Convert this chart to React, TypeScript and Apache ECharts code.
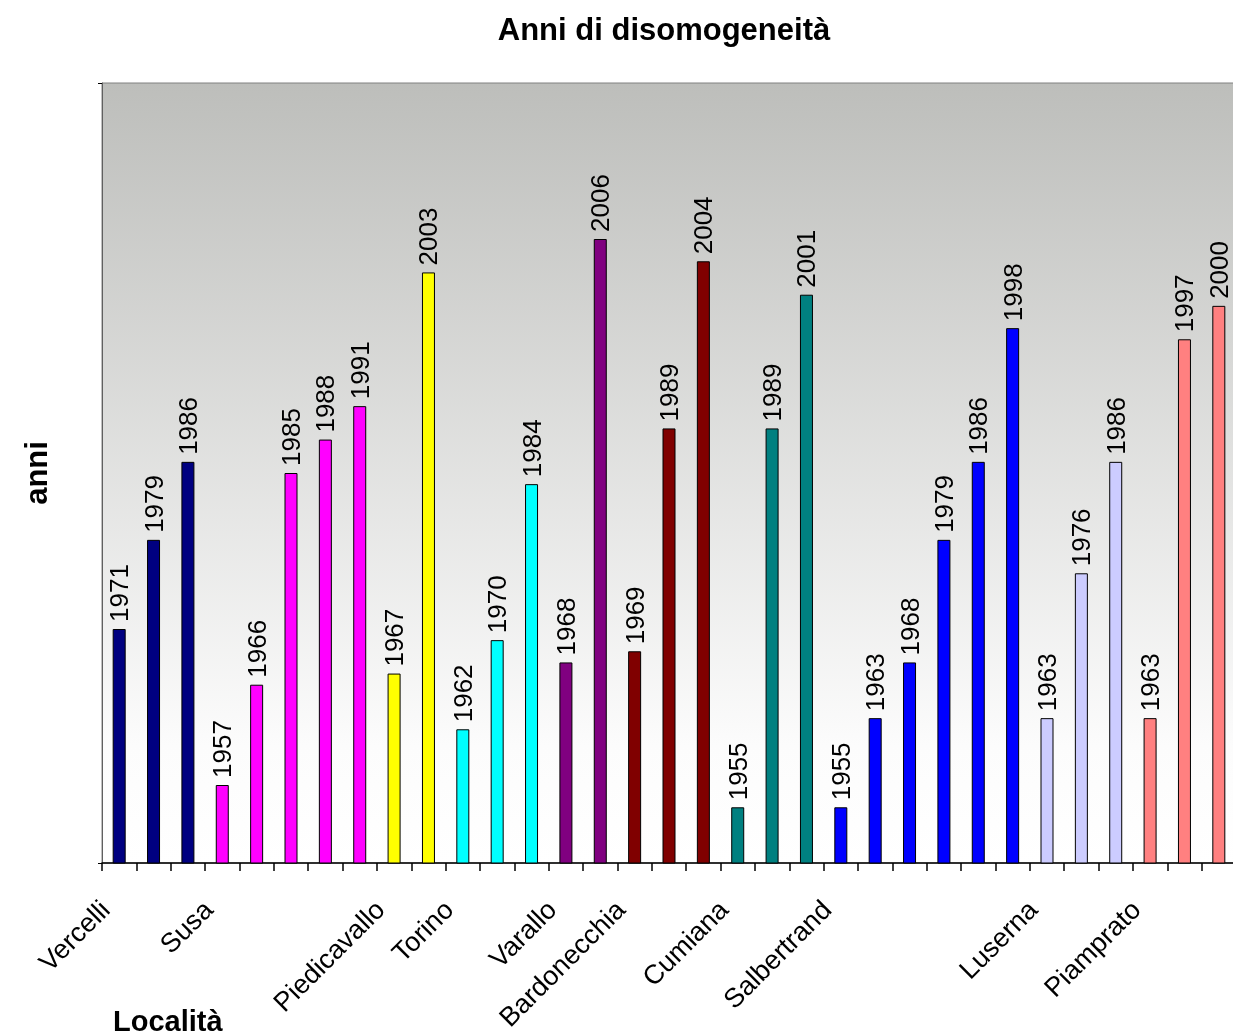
import React, { useEffect, useRef } from "react";
import * as echarts from "echarts";

const stations = ["Vercelli", "Susa", "Piedicavallo", "Torino", "Varallo", "Bardonecchia", "Cumiana", "Salbertrand", "Luserna", "Piamprato"];
const years: number[][] = [
  [1971, 1979, 1986],
  [1957, 1966, 1985, 1988, 1991],
  [1967, 2003],
  [1962, 1970, 1984],
  [1968, 2006],
  [1969, 1989, 2004],
  [1955, 1989, 2001],
  [1955, 1963, 1968, 1979, 1986, 1998],
  [1963, 1976, 1986],
  [1963, 1997, 2000],
];
const groupColors = ["#000080", "#ff00ff", "#ffff00", "#00ffff", "#800080", "#800000", "#008080", "#0000ff", "#ccccff", "#ff8080"];
const yMin = 1950;
const yMax = 2020;

export default function App() {
  const ref = useRef<HTMLDivElement>(null);
  useEffect(() => {
    if (!ref.current) return;
    const chart = echarts.init(ref.current, null, { renderer: "svg" });
    const categories: string[] = [];
    const data: any[] = [];
    stations.forEach((s, gi) => {
      years[gi].forEach((y, j) => {
        categories.push(s + "|" + j);
        data.push({ value: y, itemStyle: { color: groupColors[gi] } });
      });
    });
    const font = "'Liberation Sans', Arial, sans-serif";
    chart.setOption({
      animation: false,
      title: {
        text: "Anni di disomogeneità",
        left: 659,
        top: 9,
        textAlign: "center",
        textStyle: { fontSize: 31, fontWeight: "bold", fontFamily: font, color: "#000" },
      },
      grid: {
        left: 102,
        top: 83,
        width: 1134,
        height: 780,
        outerBoundsMode: "none",
        containLabel: false,
        show: true,
        borderColor: "#808080",
        borderWidth: 1,
        backgroundColor: new echarts.graphic.LinearGradient(0, 0, 0, 1, [
          { offset: 0, color: "#bdbebb" },
          { offset: 0.85, color: "#fcfcfc" },
          { offset: 1, color: "#ffffff" },
        ]),
      },
      xAxis: {
        type: "category",
        data: categories,
        axisLine: { lineStyle: { color: "#000", width: 1.5 } },
        axisTick: { show: true, interval: 0, length: 8, lineStyle: { color: "#000", width: 1.5 } },
        axisLabel: {
          interval: (idx: number, val: string) => val.endsWith("|0"),
          formatter: (val: string) => val.split("|")[0],
          rotate: 45,
          margin: 28,
          fontSize: 27,
          fontFamily: font,
          color: "#000",
          padding: [0, 20, 17, 0],
        },
        splitLine: { show: false },
      },
      yAxis: {
        type: "value",
        min: yMin,
        max: yMax,
        name: "anni",
        nameLocation: "middle",
        nameRotate: 90,
        nameGap: 50,
        nameTextStyle: { fontSize: 31, fontWeight: "bold", fontFamily: font, color: "#000" },
        axisLine: { show: true, lineStyle: { color: "#606060" } },
        axisTick: { show: true, length: 4, customValues: [yMin, yMax], lineStyle: { color: "#000" } },
        axisLabel: { show: false },
        splitLine: { show: false },
      },
      graphic: [
        {
          type: "text",
          left: 113,
          top: 1006,
          style: { text: "Località", fontSize: 29, fontWeight: "bold", fontFamily: font, fill: "#000" },
        },
      ],
      series: [
        {
          type: "bar",
          data,
          barWidth: 13,
          itemStyle: { borderColor: "#000", borderWidth: 1 },
          label: {
            show: true,
            position: "top",
            rotate: 90,
            align: "left",
            verticalAlign: "middle",
            distance: 7,
            fontSize: 26,
            lineHeight: 22,
            fontFamily: font,
            color: "#000",
          },
        },
      ],
    });
    return () => chart.dispose();
  }, []);
  return <div ref={ref} style={{ position: "fixed", left: 0, top: 0, width: 1233, height: 1036 }} />;
}
